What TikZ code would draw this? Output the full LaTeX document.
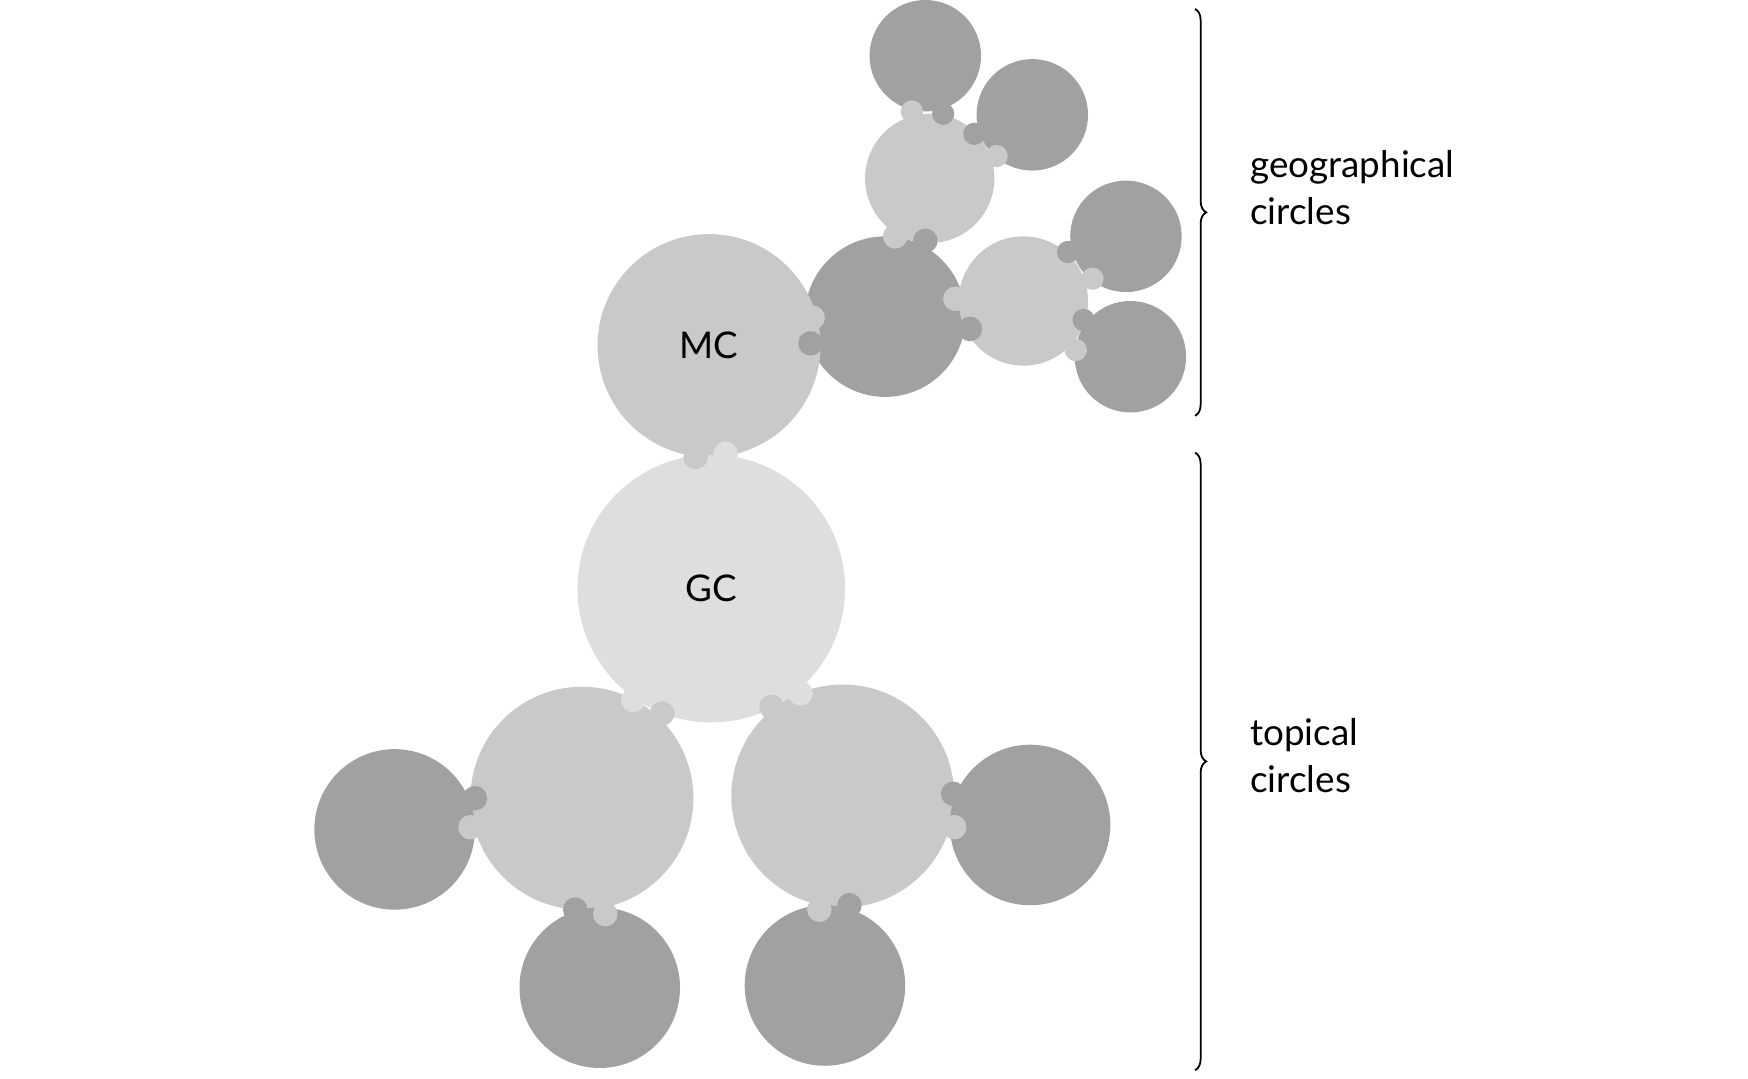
\documentclass[tikz,border=0pt]{standalone}
\usepackage{fontspec}
\setmainfont{Lato}
\usetikzlibrary{decorations.pathreplacing}
\definecolor{dk}{HTML}{A1A1A1}
\definecolor{md}{HTML}{C9C9C9}
\definecolor{lt}{HTML}{DEDEDE}
\begin{document}
\begin{tikzpicture}[x=1pt,y=-1pt,
  disc/.style={circle,inner sep=0pt,minimum size=#1},
  knob/.style={circle,inner sep=0pt,minimum size=22pt,fill=#1},
  lbl/.style={font=\fontsize{33}{42}\selectfont,align=left,anchor=west},
  br/.style={decorate,decoration={brace,amplitude=10pt},line width=1.6pt}]
\useasboundingbox (0,0) rectangle (1568,967);
% big circles
\node[disc=144pt,fill=dk] (d1) at (794,284) {};
\node[disc=116pt,fill=md] (lt1) at (834,160) {};
\node[disc=100pt,fill=dk] (d2) at (830,50) {};
\node[disc=100pt,fill=dk] (d3) at (926,103) {};
\node[disc=116pt,fill=md] (lt2) at (918,270) {};
\node[disc=100pt,fill=dk] (d4) at (1010,212) {};
\node[disc=100pt,fill=dk] (d5) at (1014,320) {};
\node[disc=200pt,fill=md,font=\fontsize{33}{40}\selectfont] (mc) at (636,310) {MC};
\node[disc=240pt,fill=lt,font=\fontsize{33}{40}\selectfont] (gc) at (638,528) {GC};
\node[disc=200pt,fill=md] (ll) at (522,716) {};
\node[disc=200pt,fill=md] (lr) at (756,714) {};
\node[disc=144pt,fill=dk] (d6) at (354,744) {};
\node[disc=144pt,fill=dk] (d7) at (538,886) {};
\node[disc=144pt,fill=dk] (d8) at (740,884) {};
\node[disc=144pt,fill=dk] (d9) at (924,740) {};
% knobs
\node[knob=md] (k1) at (729,285) {}; \node[knob=dk] (k2) at (727,308) {};
\node[knob=md] (k3) at (803,212) {}; \node[knob=dk] (k4) at (830,216) {};
\node[knob=md,minimum size=20pt] (k5) at (818,100) {}; \node[knob=dk,minimum size=20pt] (k6) at (846,102) {};
\node[knob=dk,minimum size=20pt] (k7) at (874,120) {}; \node[knob=md,minimum size=20pt] (k8) at (894,140) {};
\node[knob=md] (k9) at (857,268) {}; \node[knob=dk] (k10) at (870,295) {};
\node[knob=dk,minimum size=20pt] (k11) at (958,226) {}; \node[knob=md,minimum size=20pt] (k12) at (980,250) {};
\node[knob=dk,minimum size=20pt] (k13) at (972,287) {}; \node[knob=md,minimum size=20pt] (k14) at (965,314) {};
\node[knob=md] (k15) at (624,410) {}; \node[knob=lt] (k16) at (651,407) {};
\node[knob=lt] (k17) at (568,628) {}; \node[knob=md] (k18) at (594,640) {};
\node[knob=md] (k19) at (692,634) {}; \node[knob=lt] (k20) at (718,622) {};
\node[knob=dk] (k21) at (426,716) {}; \node[knob=md] (k22) at (422,742) {};
\node[knob=dk] (k23) at (516,816) {}; \node[knob=md] (k24) at (543,820) {};
\node[knob=md] (k25) at (735,816) {}; \node[knob=dk] (k26) at (762,812) {};
\node[knob=dk] (k27) at (855,712) {}; \node[knob=md] (k28) at (856,742) {};
% braces
\coordinate (b1t) at (1072,8); \coordinate (b1b) at (1072,373);
\coordinate (b2t) at (1072,406); \coordinate (b2b) at (1072,960);
\draw[br] (b1t) -- (b1b);
\draw[br] (b2t) -- (b2b);
\node[lbl] (geo) at (1118,168) {geographical\\circles};
\node[lbl] (top) at (1118,678) {topical\\circles};
\end{tikzpicture}
\end{document}
